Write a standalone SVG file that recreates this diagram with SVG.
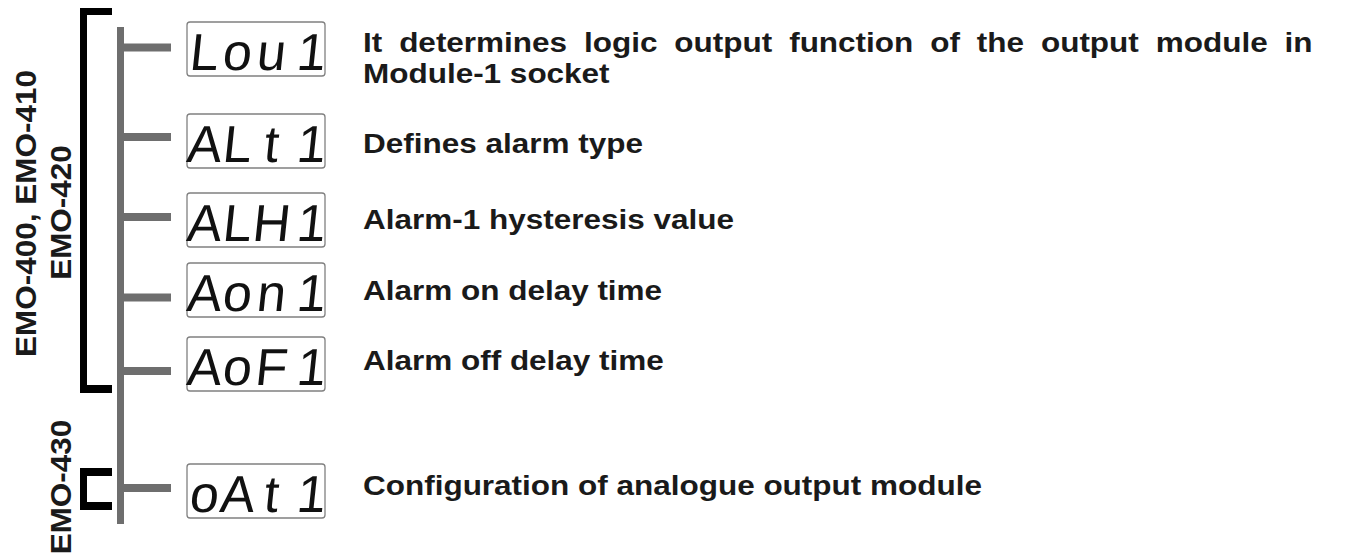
<svg xmlns="http://www.w3.org/2000/svg" width="1351" height="554" viewBox="0 0 1351 554">
<style>
.bg{fill:#ffffff}
.trunk{fill:#6e6e6e}
.br{fill:#000000}
.box{fill:#ffffff;stroke:#808080;stroke-width:1.3}
.seg{font-family:"Liberation Sans",Arial,sans-serif;font-weight:normal;font-size:52px;fill:#111111;text-anchor:middle}
.t{font-family:"Liberation Sans",Arial,sans-serif;font-weight:bold;font-size:28.5px;fill:#1a1a1a}
.r{font-family:"Liberation Sans",Arial,sans-serif;font-weight:bold;font-size:29px;fill:#1a1a1a;text-anchor:middle}
</style>
<rect class="bg" x="0" y="0" width="1351" height="554"/>

<g id="bracket-main">
  <rect class="br" x="80" y="8" width="7" height="385"/>
  <rect class="br" x="80" y="8" width="32" height="7"/>
  <rect class="br" x="80" y="385" width="32" height="8"/>
  <text class="r" transform="matrix(0 -1.086 1 0 36 213.5)" x="0" y="0">EMO-400, EMO-410</text>
  <text class="r" transform="matrix(0 -1.086 1 0 71 212.5)" x="0" y="0">EMO-420</text>
</g>

<g id="bracket-430">
  <rect class="br" x="80" y="468" width="7" height="42"/>
  <rect class="br" x="80" y="468" width="32" height="8"/>
  <rect class="br" x="80" y="502" width="32" height="8"/>
  <text class="r" transform="matrix(0 -1.086 1 0 71 487)" x="0" y="0">EMO-430</text>
</g>

<g id="connectors">
  <rect class="trunk" x="117" y="27" width="7" height="497"/>
  <rect class="trunk" x="124" y="43.5" width="47" height="8"/>
  <rect class="trunk" x="124" y="133" width="47" height="8"/>
  <rect class="trunk" x="124" y="213" width="47" height="8"/>
  <rect class="trunk" x="124" y="293.5" width="47" height="8"/>
  <rect class="trunk" x="124" y="367" width="47" height="8"/>
  <rect class="trunk" x="124" y="484" width="47" height="8"/>
</g>

<g id="node-lou1">
  <rect class="box" x="187" y="22" width="138" height="54" rx="3"/>
  <text class="seg" transform="translate(0 70) skewX(-6)" x="203 236 270 310" y="0">Lou1</text>
  <text class="t" transform="matrix(1.105 0 0 1 363 52)" x="0" y="0" word-spacing="7.4">It determines logic output function of the output module in</text>
  <text class="t" transform="matrix(1.105 0 0 1 363 83)" x="0" y="0">Module-1 socket</text>
</g>

<g id="node-alt1">
  <rect class="box" x="187" y="114" width="138" height="54" rx="3"/>
  <text class="seg" transform="translate(0 162) skewX(-6)" x="203 236 270 310" y="0">ALt1</text>
  <text class="t" transform="matrix(1.105 0 0 1 363 153)" x="0" y="0">Defines alarm type</text>
</g>

<g id="node-alh1">
  <rect class="box" x="187" y="193" width="138" height="54" rx="3"/>
  <text class="seg" transform="translate(0 241) skewX(-6)" x="203 236 270 310" y="0">ALH1</text>
  <text class="t" transform="matrix(1.105 0 0 1 363 229)" x="0" y="0">Alarm-1 hysteresis value</text>
</g>

<g id="node-aon1">
  <rect class="box" x="187" y="263" width="138" height="54" rx="3"/>
  <text class="seg" transform="translate(0 311) skewX(-6)" x="203 236 270 310" y="0">Aon1</text>
  <text class="t" transform="matrix(1.105 0 0 1 363 300)" x="0" y="0">Alarm on delay time</text>
</g>

<g id="node-aof1">
  <rect class="box" x="187" y="337" width="138" height="54" rx="3"/>
  <text class="seg" transform="translate(0 385) skewX(-6)" x="203 236 270 310" y="0">AoF1</text>
  <text class="t" transform="matrix(1.105 0 0 1 363 370)" x="0" y="0">Alarm off delay time</text>
</g>

<g id="node-oat1">
  <rect class="box" x="187" y="464" width="138" height="54" rx="3"/>
  <text class="seg" transform="translate(0 512) skewX(-6)" x="203 236 270 310" y="0">oAt1</text>
  <text class="t" transform="matrix(1.105 0 0 1 363 495)" x="0" y="0">Configuration of analogue output module</text>
</g>
</svg>
